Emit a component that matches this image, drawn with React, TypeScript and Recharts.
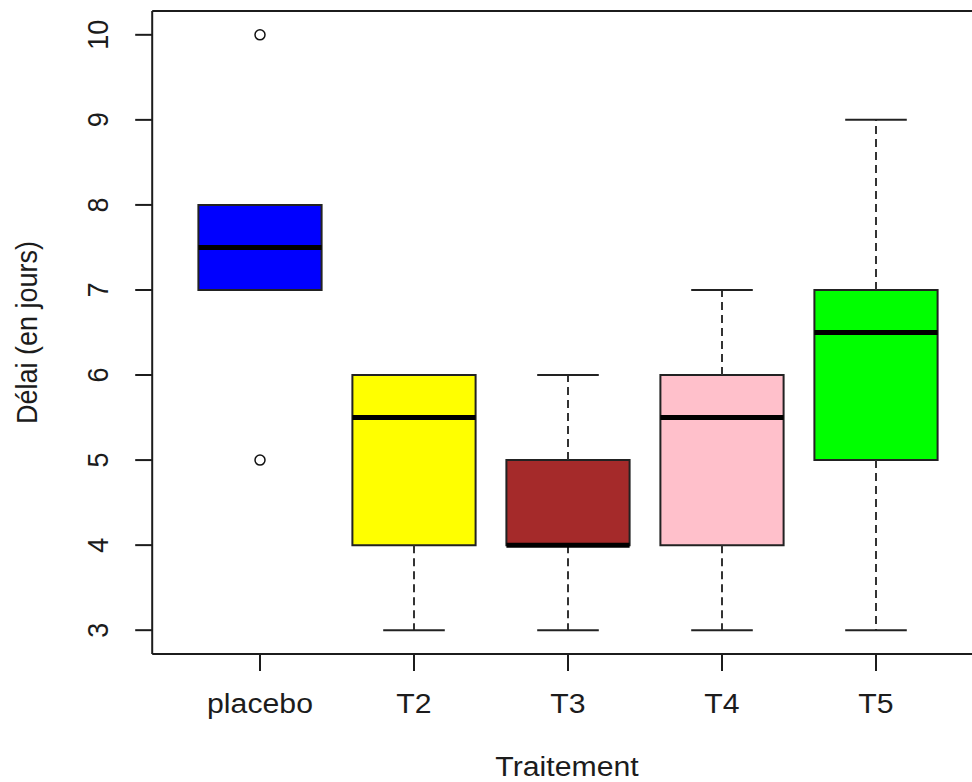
import React from 'react';
import {
  ComposedChart,
  XAxis,
  YAxis,
  ReferenceArea,
  ReferenceLine,
  Scatter,
} from 'recharts';

const categories = ['placebo', 'T2', 'T3', 'T4', 'T5'];
const positions = [1, 2, 3, 4, 5];
const lowerWhisker = [7, 3, 3, 3, 3];
const q1 = [7, 4, 4, 4, 5];
const medians = [7.5, 5.5, 4, 5.5, 6.5];
const q3 = [8, 6, 5, 6, 7];
const upperWhisker = [8, 6, 6, 7, 9];
const boxColors = ['#0000FF', '#FFFF00', '#A52A2A', '#FFC0CB', '#00FF00'];
const outlierGroups = [1, 1];
const outlierValues = [10, 5];
const yTicks = [3, 4, 5, 6, 7, 8, 9, 10];
const xDomain = [0.3, 5.7];
const yDomain = [2.72, 10.28];

const outlierData = outlierGroups.map((g, i) => ({ group: g, value: outlierValues[i] }));

const BOX_HALF = 0.4;
const STAPLE_HALF = 0.2;
const FONT = '"Liberation Sans", Arial, sans-serif';
const INK = '#1c1c1c';
const STRETCH = 1.12;
const FS = 27;

const XTick = (props: any) => {
  const { x, y, payload } = props;
  const label = categories[positions.indexOf(payload.value)] ?? '';
  return (
    <text
      transform={`translate(${x}, ${y + 40}) scale(${STRETCH},1)`}
      textAnchor="middle"
      fontFamily={FONT}
      fontSize={FS}
      fill={INK}
    >
      {label}
    </text>
  );
};

const YTick = (props: any) => {
  const { x, y, payload } = props;
  return (
    <text
      transform={`translate(${x - 25}, ${y}) scale(${STRETCH},1) rotate(-90)`}
      textAnchor="middle"
      fontFamily={FONT}
      fontSize={FS}
      fill={INK}
    >
      {payload.value}
    </text>
  );
};

const YLabel = (props: any) => {
  const vb = props.viewBox || { x: 0, y: 0, width: 0, height: 0 };
  const cy = vb.y + vb.height / 2;
  return (
    <text
      transform={`translate(37, ${cy}) scale(${STRETCH},1) rotate(-90)`}
      textAnchor="middle"
      fontFamily={FONT}
      fontSize={FS}
      fill={INK}
    >
      Délai (en jours)
    </text>
  );
};

const XLabel = (props: any) => {
  const vb = props.viewBox || { x: 0, y: 0, width: 0, height: 0 };
  const cx = vb.x + vb.width / 2;
  return (
    <text
      transform={`translate(${cx - 1}, 776) scale(${STRETCH},1)`}
      textAnchor="middle"
      fontFamily={FONT}
      fontSize={FS}
      fill={INK}
    >
      Traitement
    </text>
  );
};

export default function App() {
  return (
    <div
      style={{
        position: 'absolute',
        left: 0,
        top: 0,
        width: 972,
        height: 782,
        overflow: 'hidden',
        background: '#fff',
      }}
    >
      <ComposedChart
        width={1000}
        height={782}
        margin={{ top: 11, right: 16.2, left: 0, bottom: 0 }}
      >
        <XAxis
          dataKey="group"
          type="number"
          domain={xDomain}
          ticks={positions}
          allowDataOverflow
          height={128}
          tickSize={17}
          tick={<XTick />}
          axisLine={{ stroke: INK, strokeWidth: 2 }}
          tickLine={{ stroke: INK, strokeWidth: 2 }}
          label={<XLabel />}
        />
        <YAxis
          type="number"
          domain={yDomain}
          ticks={yTicks}
          allowDataOverflow
          width={152.2}
          tickSize={17}
          tick={<YTick />}
          axisLine={{ stroke: INK, strokeWidth: 2 }}
          tickLine={{ stroke: INK, strokeWidth: 2 }}
          label={<YLabel />}
        />

        {/* plot frame: top and right edges */}
        <ReferenceLine y={yDomain[1]} stroke={INK} strokeWidth={2} ifOverflow="visible" />
        <ReferenceLine x={xDomain[1]} stroke={INK} strokeWidth={2} ifOverflow="visible" />

        {positions.map((p, i) => (
          <ReferenceLine
            key={`wu${i}`}
            segment={[{ x: p, y: q3[i] }, { x: p, y: upperWhisker[i] }]}
            stroke="#333"
            strokeWidth={2}
            strokeDasharray="8 5"
          />
        ))}
        {positions.map((p, i) => (
          <ReferenceLine
            key={`wl${i}`}
            segment={[{ x: p, y: q1[i] }, { x: p, y: lowerWhisker[i] }]}
            stroke="#333"
            strokeWidth={2}
            strokeDasharray="8 5"
          />
        ))}
        {positions.map((p, i) => (
          <ReferenceLine
            key={`su${i}`}
            segment={[{ x: p - STAPLE_HALF, y: upperWhisker[i] }, { x: p + STAPLE_HALF, y: upperWhisker[i] }]}
            stroke="#222"
            strokeWidth={2}
          />
        ))}
        {positions.map((p, i) => (
          <ReferenceLine
            key={`sl${i}`}
            segment={[{ x: p - STAPLE_HALF, y: lowerWhisker[i] }, { x: p + STAPLE_HALF, y: lowerWhisker[i] }]}
            stroke="#222"
            strokeWidth={2}
          />
        ))}
        {positions.map((p, i) => (
          <ReferenceArea
            key={`b${i}`}
            x1={p - BOX_HALF}
            x2={p + BOX_HALF}
            y1={q1[i]}
            y2={q3[i]}
            fill={boxColors[i]}
            fillOpacity={1}
            stroke="#222"
            strokeWidth={2}
          />
        ))}
        {positions.map((p, i) => (
          <ReferenceLine
            key={`m${i}`}
            segment={[{ x: p - BOX_HALF, y: medians[i] }, { x: p + BOX_HALF, y: medians[i] }]}
            stroke="#000"
            strokeWidth={5}
          />
        ))}
        <Scatter
          data={outlierData}
          dataKey="value"
          isAnimationActive={false}
          shape={(props: any) => (
            <circle cx={props.cx} cy={props.cy} r={5} fill="none" stroke="#111" strokeWidth={1.5} />
          )}
        />
      </ComposedChart>
    </div>
  );
}
